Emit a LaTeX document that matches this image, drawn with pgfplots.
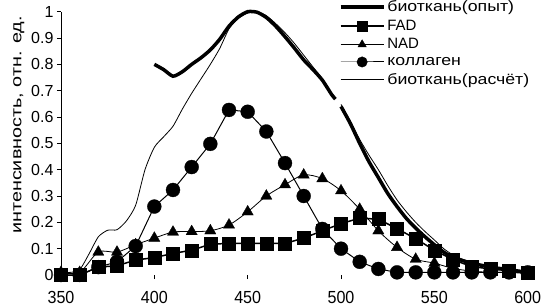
\documentclass[border=0pt]{standalone}
\usepackage{fontspec}
\setmainfont{Liberation Sans}
\newfontfamily\cyrleg{Liberation Sans}[FakeStretch=1.18]
\newfontfamily\cyrylab{Liberation Sans}[FakeStretch=1.32]
\newfontfamily\xtickfont{Liberation Sans}[FakeStretch=0.92]
\usepackage{pgfplots}
\pgfplotsset{compat=1.18}
\begin{document}
\begin{tikzpicture}
\path[use as bounding box] (-61bp,-31bp) rectangle (482bp,275bp);
\begin{axis}[
  at={(0,0)}, anchor=south west,
  scale only axis, width=466.7bp, height=263.3bp,
  xmin=350, xmax=600, ymin=0, ymax=1,
  clip=false,
  axis x line*=bottom, axis y line*=left,
  x axis line style={draw=none},
  y axis line style={line width=0.8bp, -},
  tick align=outside,
  major tick length=4bp,
  every tick/.style={black, line width=0.8bp},
  xtick={350,400,450,500,550,600},
  ytick={0,0.1,0.2,0.3,0.4,0.5,0.6,0.7,0.8,0.9,1},
  /pgf/number format/assume math mode=true,
  /pgf/number format/fixed, /pgf/number format/precision=1,
  yticklabel style={font=\fontsize{16bp}{18bp}\selectfont},
  xticklabel style={font=\xtickfont\fontsize{17.5bp}{18bp}\selectfont, yshift=-9bp},
  ylabel={\cyrylab интенсивность, отн. ед.},
  every axis y label/.style={at={(ticklabel cs:0.57)}, rotate=90, anchor=near ticklabel, font=\fontsize{15bp}{17bp}\selectfont},
  legend style={draw=none, fill=none, at={(0.595,1.05)}, anchor=north west,
    font=\fontsize{15bp}{17bp}\selectfont, row sep=2.8bp, inner sep=0pt},
  legend cell align=left,
  legend image code/.code={\draw[mark repeat=2,mark phase=2] plot coordinates {(0bp,0bp) (21.5bp,0bp) (43bp,0bp)};},
  legend image post style={/tikz/every mark/.append style={scale=0.75}},
]
% биоткань (опыт)
\addplot[black, line width=3.5bp, smooth, tension=0.4, unbounded coords=jump] coordinates {
(400,0.80) (405,0.78) (410,0.755) (415,0.772) (420,0.80) (425,0.825) (430,0.855) (435,0.895)
(440,0.945) (445,0.98) (450,1.0) (455,0.998) (460,0.978) (465,0.945) (470,0.905) (475,0.862)
(480,0.817) (485,0.78) (490,0.74) (495,0.685) (497,0.668) (498.5,nan)
(500,0.64) (505,0.575) (510,0.50) (515,0.43) (520,0.37) (525,0.31) (530,0.26) (535,0.215)
(540,0.178) (545,0.145) (550,0.115) (555,0.087) (560,0.067) (565,0.055) (570,0.045) (580,0.03)
(590,0.02) (600,0.01)};
\addlegendentry{\cyrleg биоткань(опыт)}
% FAD
\addplot[black, line width=1.5bp, mark=square*, mark size=6.5bp, mark options={solid, line width=0.5bp}] coordinates {
(350,0) (360,0) (370,0.03) (380,0.035) (390,0.057) (400,0.066) (410,0.082) (420,0.094)
(430,0.117) (440,0.12) (450,0.12) (460,0.12) (470,0.12) (480,0.14) (490,0.168) (500,0.195)
(510,0.216) (520,0.212) (530,0.176) (540,0.138) (550,0.094) (560,0.058) (570,0.032) (580,0.023)
(590,0.016) (600,0.007)};
\addlegendentry{FAD}
% NAD
\addplot[black, line width=0.8bp, smooth, tension=0.5, mark=triangle*, mark size=6.5bp, mark options={solid, line width=0.3bp}] coordinates {
(350,0.01) (360,0.01) (370,0.087) (380,0.087) (390,0.115) (400,0.14) (410,0.163) (420,0.165)
(430,0.168) (440,0.19) (450,0.24) (460,0.30) (470,0.343) (480,0.38) (490,0.366) (500,0.32)
(510,0.25) (520,0.168) (530,0.105) (540,0.06) (550,0.045) (560,0.025) (570,0.015) (580,0.01)
(590,0.01) (600,0.005)};
\addlegendentry{NAD}
% коллаген
\addplot[black, line width=1bp, mark=*, mark size=7bp, mark options={solid, line width=0.3bp}] coordinates {
(350,0) (360,0) (370,0.03) (380,0.05) (390,0.11) (400,0.26) (410,0.323) (420,0.41)
(430,0.498) (440,0.627) (450,0.62) (460,0.545) (470,0.425) (480,0.30) (490,0.175) (500,0.10)
(510,0.05) (520,0.023) (530,0.01) (540,0.01) (550,0.01) (560,0.01) (570,0.01) (580,0.01)
(590,0.01) (600,0.01)};
\addlegendentry{\cyrleg коллаген}
% биоткань (расчёт)
\addplot[black, line width=0.8bp, smooth, tension=0.4, unbounded coords=jump] coordinates {
(350,0.01) (355,0.01) (360,0.02) (365,0.08) (370,0.145) (375,0.17) (380,0.172) (385,0.205)
(390,0.265) (395,0.40) (400,0.485) (405,0.525) (410,0.565) (415,0.63) (420,0.69) (425,0.745)
(430,0.80) (435,0.86) (440,0.935) (445,0.975) (450,0.995) (455,1.0) (460,0.985) (465,0.955)
(470,0.92) (475,0.88) (480,0.835) (485,0.79) (490,0.745) (495,0.69) (497,0.673) (498.5,nan)
(500,0.648) (505,0.585) (510,0.515) (515,0.455) (520,0.40) (525,0.34) (530,0.285) (535,0.24)
(540,0.20) (545,0.165) (550,0.133) (555,0.10) (560,0.076) (565,0.06) (570,0.048) (580,0.03)
(590,0.02) (600,0.01)};
\addlegendentry{\cyrleg биоткань(расчёт)}
\end{axis}
\end{tikzpicture}
\end{document}
